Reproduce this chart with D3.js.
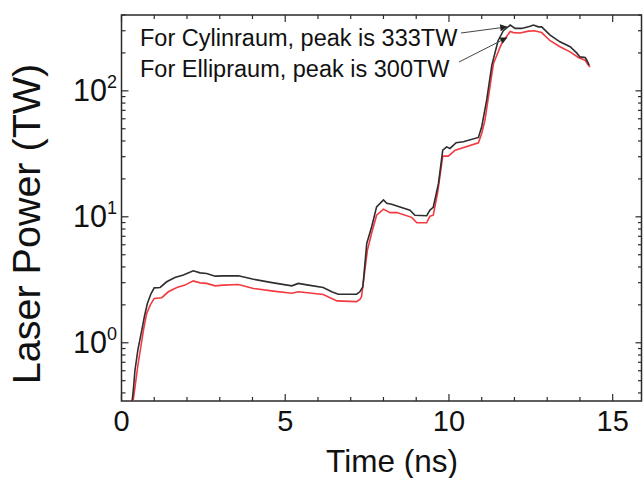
<!DOCTYPE html>
<html lang="en">
<head>
<meta charset="UTF-8">
<title>Laser Power</title>
<style>
  body { margin: 0; background: #fff; }
  text { font-family: "Liberation Sans", Arial, sans-serif; fill: #111; }
</style>
</head>
<body>
<div id="chart"></div>
<script src="https://d3js.org/d3.v7.min.js"></script>
<script>
// Cylinraum (black)
const timeCyl = [0.30, 0.36, 0.41, 0.50, 0.62, 0.70, 0.79, 0.90, 1.00, 1.18, 1.38, 1.63, 1.89, 2.19, 2.40, 2.60, 2.86, 3.11, 3.57, 4.03, 4.64, 5.20, 5.40, 5.71, 6.16, 6.42, 6.62, 7.18, 7.28, 7.37, 7.49, 7.64, 7.79, 8.00, 8.10, 8.25, 8.41, 8.81, 8.96, 9.32, 9.42, 9.52, 9.68, 9.81, 9.93, 10.03, 10.22, 10.44, 10.90, 11.00, 11.15, 11.31, 11.50, 11.66, 11.87, 12.02, 12.22, 12.48, 12.58, 12.73, 12.83, 13.09, 13.39, 13.70, 13.90, 14.00, 14.16, 14.21, 14.28];
const powerCyl = [0.30, 0.42, 0.60, 0.88, 1.26, 1.62, 2.05, 2.45, 2.73, 2.75, 3.05, 3.30, 3.45, 3.73, 3.59, 3.55, 3.38, 3.40, 3.40, 3.19, 2.99, 2.83, 2.96, 2.87, 2.75, 2.54, 2.43, 2.43, 2.54, 2.78, 6.15, 8.33, 12.0, 13.6, 12.8, 12.6, 12.2, 11.3, 10.3, 10.2, 11.3, 11.9, 18.4, 33.8, 35.9, 34.9, 38.7, 39.4, 42.7, 51.8, 84, 160, 250, 300, 333, 313, 313, 326, 333, 322, 322, 277, 245, 224, 200, 186, 184, 175, 160];

// Ellipraum (red)
const timeEll = [0.32, 0.41, 0.50, 0.59, 0.68, 0.77, 0.88, 1.00, 1.23, 1.43, 1.69, 1.94, 2.19, 2.40, 2.60, 2.86, 3.11, 3.57, 4.03, 4.64, 5.20, 5.40, 6.16, 6.58, 7.18, 7.28, 7.33, 7.51, 7.65, 7.79, 8.00, 8.20, 8.41, 8.86, 9.02, 9.32, 9.42, 9.52, 9.65, 9.81, 9.98, 10.19, 10.90, 11.00, 11.10, 11.36, 11.61, 11.87, 11.97, 12.17, 12.43, 12.60, 12.83, 13.09, 13.39, 13.70, 13.95, 14.16, 14.26, 14.31];
const powerEll = [0.30, 0.44, 0.66, 0.93, 1.30, 1.71, 2.00, 2.25, 2.28, 2.54, 2.75, 2.87, 3.10, 2.99, 2.96, 2.83, 2.87, 2.90, 2.70, 2.57, 2.47, 2.54, 2.42, 2.15, 2.12, 2.21, 2.32, 5.44, 7.6, 10.3, 11.5, 10.8, 10.8, 9.9, 8.96, 8.96, 10.1, 10.3, 15.3, 30.3, 30.3, 33.8, 38.7, 45.9, 58.5, 165, 238, 296, 290, 288, 298, 300, 290, 250, 224, 204, 184, 175, 160, 155];

const xTicks = [0, 5, 10, 15];
const yTicks = [1, 10, 100];
const yExp = ["0", "1", "2"];

const notes = ["For Cylinraum, peak is 333TW", "For Ellipraum, peak is 300TW"];
const noteTarget = [[11.78, 322], [11.78, 265]];

const W = 643, H = 478;
const margin = { top: 15, right: 1.5, bottom: 77, left: 121.5 };
const width = W - margin.left - margin.right,
      height = H - margin.top - margin.bottom;

const svg = d3.select("#chart").append("svg")
    .attr("width", W)
    .attr("height", H);

const g = svg.append("g")
    .attr("transform", `translate(${margin.left},${margin.top})`);

const x = d3.scaleLinear().domain([0, 15.88]).range([0, width]);
const y = d3.scaleLog().domain([0.345, 400]).range([height, 0]);

g.append("clipPath").attr("id", "clip")
  .append("rect").attr("width", width).attr("height", height);

// minor ticks
const minorX = d3.range(0, 16, 1);
const minorY = [];
[0.1, 1, 10, 100].forEach(d => { for (let k = 2; k <= 9; k++) minorY.push(d * k); });
const minorYIn = minorY.filter(v => v >= 0.345 && v <= 400);

const axisColor = "#2a2a2a";

function tickSet(sel, vals, fn) {
  sel.selectAll(null).data(vals).enter().append("line")
    .attr("stroke", axisColor).attr("stroke-width", 1.2)
    .each(function (d) { fn(d3.select(this), d); });
}

// bottom ticks
tickSet(g, minorX, (s, d) => s.attr("x1", x(d)).attr("x2", x(d)).attr("y1", height).attr("y2", height - (d % 5 === 0 ? 7 : 4)));
// top ticks
tickSet(g, minorX, (s, d) => s.attr("x1", x(d)).attr("x2", x(d)).attr("y1", 0).attr("y2", (d % 5 === 0 ? 7 : 4)));
// left ticks
tickSet(g, yTicks, (s, d) => s.attr("x1", 0).attr("x2", 7).attr("y1", y(d)).attr("y2", y(d)));
tickSet(g, minorYIn, (s, d) => s.attr("x1", 0).attr("x2", 4).attr("y1", y(d)).attr("y2", y(d)));
// right ticks
tickSet(g, yTicks, (s, d) => s.attr("x1", width).attr("x2", width - 6).attr("y1", y(d)).attr("y2", y(d)));
tickSet(g, minorYIn, (s, d) => s.attr("x1", width).attr("x2", width - 3.5).attr("y1", y(d)).attr("y2", y(d)));

// frame
g.append("rect")
  .attr("width", width).attr("height", height)
  .attr("fill", "none").attr("stroke", axisColor).attr("stroke-width", 1.5);

// x tick labels
g.selectAll(".xl").data(xTicks).enter().append("text")
  .attr("x", d => x(d)).attr("y", height + 30)
  .attr("text-anchor", "middle").attr("font-size", 29)
  .text(d => d);

// y tick labels
const yl = g.selectAll(".yl").data(yTicks).enter().append("text")
  .attr("x", -4.5).attr("y", d => y(d) + 10)
  .attr("text-anchor", "end").attr("font-size", 30.5);
yl.append("tspan").text("10");
yl.append("tspan").attr("font-size", 18).attr("dy", -13).text((d, i) => yExp[i]);

// axis titles
svg.append("text")
  .attr("x", 392).attr("y", 472)
  .attr("text-anchor", "middle").attr("font-size", 31.5)
  .text("Time (ns)");

svg.append("text")
  .attr("transform", "translate(40,224) rotate(-90)")
  .attr("text-anchor", "middle").attr("font-size", 39.5)
  .text("Laser Power (TW)");

// lines
const line = d3.line().x(d => x(d[0])).y(d => y(d[1]));
const plot = g.append("g").attr("clip-path", "url(#clip)");

plot.append("path")
  .datum(timeEll.map((t, i) => [t, powerEll[i]]))
  .attr("fill", "none").attr("stroke", "#f23a40").attr("stroke-width", 1.6)
  .attr("d", line);

plot.append("path")
  .datum(timeCyl.map((t, i) => [t, powerCyl[i]]))
  .attr("fill", "none").attr("stroke", "#2e2e2e").attr("stroke-width", 1.6)
  .attr("d", line);

// annotations
svg.append("defs").append("marker")
  .attr("id", "arrow").attr("viewBox", "0 0 10 10")
  .attr("refX", 10).attr("refY", 5)
  .attr("markerWidth", 9).attr("markerHeight", 7)
  .attr("markerUnits", "userSpaceOnUse")
  .attr("orient", "auto")
  .append("path").attr("d", "M0,0L10,5L0,10Z").attr("fill", "#222");

const noteY = [46, 77];
const tails = [[461, 33], [459, 62]];
notes.forEach((t, i) => {
  svg.append("text")
    .attr("x", 140).attr("y", noteY[i])
    .attr("font-size", 23.5)
    .text(t);
  g.append("line")
    .attr("x1", tails[i][0] - margin.left).attr("y1", tails[i][1] - margin.top)
    .attr("x2", x(noteTarget[i][0])).attr("y2", y(noteTarget[i][1]))
    .attr("stroke", "#444").attr("stroke-width", 1)
    .attr("marker-end", "url(#arrow)");
});
</script>
</body>
</html>
